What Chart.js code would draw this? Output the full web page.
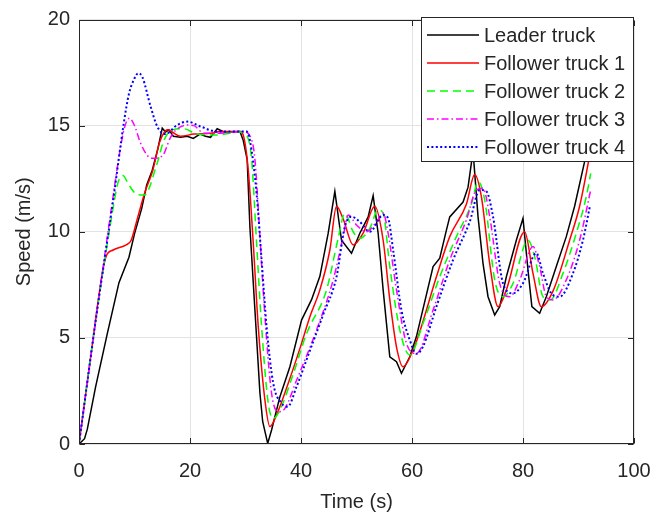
<!DOCTYPE html>
<html>
<head>
<meta charset="utf-8">
<script src="https://cdn.jsdelivr.net/npm/chart.js@4/dist/chart.umd.min.js"></script>
<style>
  html, body { margin: 0; padding: 0; background: #ffffff; }
  #wrap { width: 656px; height: 517px; }
</style>
</head>
<body>
<div id="wrap"><canvas id="chart" width="656" height="517"></canvas></div>
<script>
// Speed traces of a truck platoon: leader plus four followers.
const seriesNames = ['Leader truck', 'Follower truck 1', 'Follower truck 2', 'Follower truck 3', 'Follower truck 4'];

const leaderTime  = [0,1.0,1.5,3.0,5.1,7.2,9.0,10.0,11.3,12.2,13.2,14.2,15.0,15.6,16.2,17.0,18.3,19.5,20.6,21.8,22.8,23.7,24.9,26.1,29.0,29.6,30.3,30.8,31.7,32.6,33.1,34.0,34.7,36.2,38.0,40.1,41.9,43.4,44.9,46.1,47.3,49.1,50.6,52.1,53.0,53.9,54.8,56.0,57.2,58.1,59.6,60.8,63.8,65.0,66.2,66.8,69.2,70.1,71.0,71.9,72.8,73.7,74.9,75.8,77.0,78.8,80.0,80.9,81.6,83.0,84.2,86.0,87.8,89.3,91.1,92.0];
const leaderSpeed = [0,0.25,0.7,2.7,5.2,7.6,8.8,9.9,11.1,12.2,12.9,13.9,14.88,14.7,14.8,14.5,14.45,14.5,14.4,14.6,14.5,14.45,14.85,14.7,14.72,14.3,13.4,10.2,6.3,2.4,1.05,0.03,0.66,2.23,3.64,5.84,6.8,7.9,9.93,11.9,9.6,8.99,9.93,10.7,11.7,9.93,7.26,4.11,3.88,3.33,4.11,5.06,8.36,8.75,10.08,10.7,11.4,12.1,13.8,10.7,8.5,6.94,6.08,6.47,7.88,9.6,10.63,8.2,6.47,6.16,6.94,8.36,9.77,11.2,13.3,14.3];

const f1Time  = [0,2.0,4.2,4.9,6.15,8.5,9.4,10.6,11.8,13.3,14.5,15.4,16.0,16.8,18.3,20.7,23.7,25.5,29.0,29.6,30.5,31.4,32.3,33.5,34.4,35.6,37.7,40.1,41.6,43.4,45.2,46.4,47.6,49.4,51.2,53.3,54.8,56.0,57.2,58.4,60.2,61.4,64.4,66.8,69.8,71.3,72.5,74.0,75.5,77.0,80.3,81.8,83.3,85.4,88.4,90.2,91.8,92.0];
const f1Speed = [0,3.9,8.05,8.85,9.14,9.38,9.6,10.7,11.8,12.9,14.2,14.7,14.8,14.7,14.5,14.6,14.64,14.72,14.72,14.55,12.9,9.46,5.53,2.07,0.82,1.37,2.86,4.74,6.0,7.26,9.14,11.2,10.6,9.38,9.93,11.2,9.6,6.8,4.58,3.64,4.43,5.29,7.88,9.77,11.3,12.7,11.65,8.5,6.47,7.26,10.0,8.04,6.47,7.2,9.6,11.2,13.3,13.6];

const f2Time  = [0,3.0,6.4,7.0,7.9,9.0,10.5,11.8,13.9,15.3,16.8,18.9,21.3,24.8,29.0,30.2,31.1,32.0,32.9,34.1,35.0,36.2,38.6,41.0,44.6,46.7,47.9,49.4,50.6,52.4,53.9,54.8,56.0,57.8,59.6,62.0,65.0,68.0,70.7,71.9,73.1,74.9,76.4,78.2,80.9,82.1,83.6,84.9,87.2,89.6,91.4,92.2];
const f2Speed = [0,5.8,11.5,12.3,12.65,12.2,11.75,11.73,13.07,14.3,14.8,14.85,14.6,14.56,14.7,14.55,13.4,9.46,5.53,1.92,1.21,1.6,3.3,5.2,7.26,9.69,10.87,10.0,9.69,10.17,11.03,10.87,8.36,5.37,4.2,5.69,7.88,9.77,11.3,12.36,11.5,7.73,6.94,7.57,9.6,8.83,6.94,6.79,8.04,9.93,11.65,12.75];

const f3Time  = [0,3.0,6.0,7.5,8.3,9.1,10.0,11.1,12.3,13.3,15.1,16.4,17.5,19.5,20.7,22.5,24.8,29.6,31.1,31.7,32.6,33.5,34.7,35.9,37.1,39.2,42.8,45.8,47.6,48.5,50.0,51.8,53.6,54.8,55.7,57.2,59.0,60.8,63.8,66.8,69.8,71.6,72.8,74.0,75.8,77.6,79.4,81.8,83.0,84.2,85.4,87.8,90.2,92.2];
const f3Speed = [0,5.8,11.4,14.0,15.0,15.35,15.0,14.17,13.6,13.46,13.6,14.4,14.8,15.03,15.0,14.64,14.64,14.72,14.33,13.4,9.77,6.0,2.39,1.52,1.68,3.0,5.37,7.73,9.77,10.79,10.32,10.0,10.47,10.87,9.93,7.26,4.74,4.27,6.31,8.67,10.56,11.97,12.05,10.71,7.57,6.94,7.73,9.3,8.36,6.94,6.79,7.73,9.6,11.97];

const f4Time  = [0,3.0,6.27,8.06,9.0,9.86,10.7,11.4,12.9,14.1,15.5,17.7,19.5,21.9,24.8,30.2,30.8,32.0,32.9,33.8,35.0,36.5,37.6,39.2,41.6,44.0,46.4,47.9,49.1,50.6,52.4,54.8,55.7,56.6,58.1,59.6,60.8,62.0,64.4,67.4,70.4,72.2,73.4,74.6,76.4,78.2,80.0,82.4,83.6,85.1,86.6,89.0,90.8,92.1];
const f4Speed = [0,5.8,11.7,15.1,16.5,17.15,17.47,17.3,15.9,14.96,14.6,15.03,15.19,14.96,14.72,14.72,14.3,11.8,8.67,5.53,2.86,1.92,1.76,2.7,4.4,6.1,7.88,10.24,10.71,10.47,10.0,10.79,10.63,9.14,6.31,4.9,4.25,4.6,6.47,8.67,10.47,11.97,11.9,10.71,7.57,7.1,7.57,8.99,8.04,7.1,6.94,8.04,9.6,11.26];

const xTicks = [0, 20, 40, 60, 80, 100];
const yTicks = [0, 5, 10, 15, 20];

const FONT = '"Liberation Sans", Arial, Helvetica, sans-serif';
const INK = '#262626';

function pairs(ts, vs) { return ts.map((t, i) => ({ x: t, y: vs[i] })); }

const traces = [
  { t: leaderTime, v: leaderSpeed, color: '#000000', dash: [],             width: 1.5, smooth: false },
  { t: f1Time,     v: f1Speed,     color: '#ff0000', dash: [],             width: 1.5, smooth: true },
  { t: f2Time,     v: f2Speed,     color: '#00ff00', dash: [8, 5],         width: 1.5, smooth: true },
  { t: f3Time,     v: f3Speed,     color: '#ff00ff', dash: [7, 3, 1.5, 3], width: 1.5, smooth: true },
  { t: f4Time,     v: f4Speed,     color: '#0000ff', dash: [2, 2.4],       width: 2,   smooth: true }
];

const datasets = traces.map((s, i) => ({
  label: seriesNames[i],
  data: pairs(s.t, s.v),
  borderColor: s.color,
  backgroundColor: s.color,
  borderDash: s.dash,
  borderWidth: s.width,
  pointRadius: 0,
  fill: false,
  tension: s.smooth ? 0.4 : 0,
  cubicInterpolationMode: s.smooth ? 'monotone' : 'default',
  order: traces.length - i
}));

// white page, box around the axes, inward tick marks and the legend panel
const framePlugin = {
  id: 'frame',
  beforeDraw(chart) {
    const c = chart.ctx;
    c.save();
    c.fillStyle = '#ffffff';
    c.fillRect(0, 0, chart.width, chart.height);
    c.restore();
  },
  afterDraw(chart) {
    const c = chart.ctx;
    const a = chart.chartArea;
    const xs = chart.scales.x, ys = chart.scales.y;
    const L = Math.round(a.left) + 0.5, R = Math.round(a.right) - 0.5;
    const T = Math.round(a.top) + 0.5, B = Math.round(a.bottom) - 0.5;
    const tl = 5.5;
    c.save();
    c.strokeStyle = INK;
    c.lineWidth = 1;
    c.beginPath();
    xTicks.forEach(v => {
      const px = Math.round(xs.getPixelForValue(v)) + 0.5;
      c.moveTo(px, B); c.lineTo(px, B - tl);
      c.moveTo(px, T); c.lineTo(px, T + tl);
    });
    yTicks.forEach(v => {
      const py = Math.round(ys.getPixelForValue(v)) + 0.5;
      c.moveTo(L, py); c.lineTo(L + tl, py);
      c.moveTo(R, py); c.lineTo(R - tl, py);
    });
    c.stroke();
    c.strokeRect(L, T, R - L, B - T);

    // legend panel in the upper right corner
    const boxL = 421.5, boxT = 17.5, boxR = R, boxB = 161.5;
    c.fillStyle = '#ffffff';
    c.fillRect(boxL, boxT, boxR - boxL, boxB - boxT);
    c.strokeStyle = INK;
    c.lineWidth = 1;
    c.strokeRect(boxL, boxT, boxR - boxL, boxB - boxT);
    c.font = '20px ' + FONT;
    c.textBaseline = 'middle';
    c.textAlign = 'left';
    chart.data.datasets.forEach((ds, i) => {
      const y = 35 + i * 28;
      c.beginPath();
      c.strokeStyle = ds.borderColor;
      c.lineWidth = ds.borderWidth;
      c.setLineDash(ds.borderDash);
      c.moveTo(427, y); c.lineTo(479, y);
      c.stroke();
      c.setLineDash([]);
      c.fillStyle = INK;
      c.fillText(ds.label, 484, y + 1);
    });
    c.restore();
  }
};

new Chart(document.getElementById('chart'), {
  type: 'line',
  data: { datasets },
  plugins: [framePlugin],
  options: {
    responsive: false,
    animation: false,
    layout: { padding: { left: 0, right: 22, top: 19.5, bottom: 0 } },
    plugins: { legend: { display: false }, tooltip: { enabled: false } },
    scales: {
      x: {
        type: 'linear',
        min: 0, max: 100,
        afterBuildTicks(scale) { scale.ticks = xTicks.map(v => ({ value: v })); },
        afterFit(scale) {
          scale.height = 73;
          scale.paddingLeft = 0;
          scale.paddingRight = 0;
        },
        grid: { color: '#e3e3e3', lineWidth: 1, drawTicks: false },
        border: { display: false },
        ticks: { color: INK, font: { family: FONT, size: 20 }, padding: 15, maxRotation: 0 },
        title: { display: true, text: 'Time (s)', color: INK, font: { family: FONT, size: 20 }, padding: { top: 0, bottom: 3 } }
      },
      y: {
        type: 'linear',
        min: 0, max: 20,
        afterBuildTicks(scale) { scale.ticks = yTicks.map(v => ({ value: v })); },
        afterFit(scale) {
          scale.width = 79;
          scale.paddingTop = 0;
          scale.paddingBottom = 0;
        },
        grid: { color: '#e3e3e3', lineWidth: 1, drawTicks: false },
        border: { display: false },
        ticks: { color: INK, font: { family: FONT, size: 20 }, padding: 9 },
        title: { display: true, text: 'Speed (m/s)', color: INK, font: { family: FONT, size: 20 }, padding: { top: 12, bottom: 0 } }
      }
    }
  }
});
</script>
</body>
</html>
